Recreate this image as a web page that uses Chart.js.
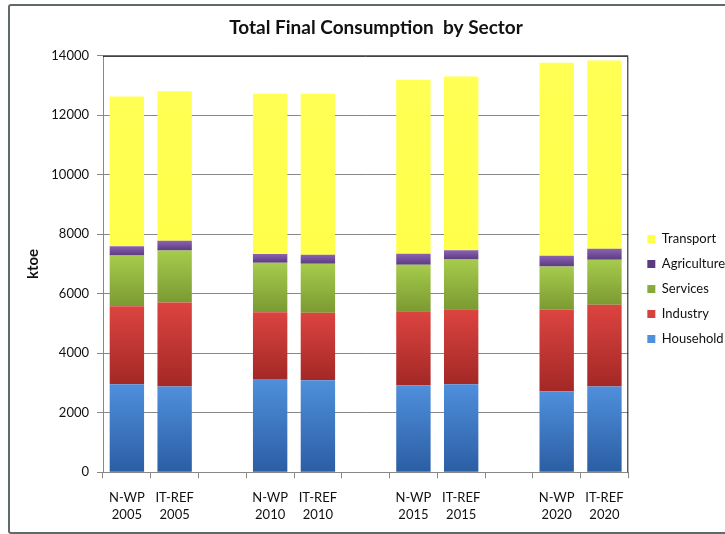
<!DOCTYPE html>
<html>
<head>
<meta charset="utf-8">
<script src="https://cdn.jsdelivr.net/npm/chart.js@4.4.0/dist/chart.umd.min.js"></script>
<style>
  body { margin: 0; background: #fff; overflow: hidden; }
  #frame { position: absolute; left: 8px; top: 4px; width: 730px; height: 526px; border: 2px solid #5f6a6a; border-radius: 3px; }
  #wrap { position: absolute; left: 0; top: 0; width: 725px; height: 534px; }
</style>
</head>
<body>
<div id="frame"></div>
<div id="wrap"><canvas id="myChart"></canvas></div>
<script>
var labels = [
  ["N-WP", "2005"], ["IT-REF", "2005"], "",
  ["N-WP", "2010"], ["IT-REF", "2010"], "",
  ["N-WP", "2015"], ["IT-REF", "2015"], "",
  ["N-WP", "2020"], ["IT-REF", "2020"]
];
var household   = [2960, 2880, null, 3130, 3090, null, 2925, 2960, null, 2720, 2880];
var industry    = [2620, 2825, null, 2250, 2270, null, 2490, 2520, null, 2740, 2750];
var services    = [1705, 1750, null, 1660, 1650, null, 1560, 1670, null, 1455, 1510];
var agriculture = [ 315,  325, null,  300,  300, null,  370,  310, null,  360,  370];
var transport   = [5030, 5030, null, 5380, 5410, null, 5850, 5840, null, 6490, 6330];
var yTicks = [0, 2000, 4000, 6000, 8000, 10000, 12000, 14000];

var series = [household, industry, services, agriculture, transport];
var shades = [
  ["#4f8fdc", "#2b5ea3"],
  ["#dc4440", "#a32826"],
  ["#a6cb4c", "#7b9a32"],
  ["#8a63b2", "#5b3b80"],
  ["#ffff55", "#ffff4a"]
];

// light at the top of each segment, darker at the bottom
function segmentFill(i) {
  return function (ctx) {
    var chart = ctx.chart, y = chart.scales.y;
    if (!chart.chartArea || !y || ctx.type !== "data") return shades[i][0];
    var start = 0;
    for (var k = 0; k < i; k++) start += series[k][ctx.dataIndex] || 0;
    var end = start + (series[i][ctx.dataIndex] || 0);
    var y0 = y.getPixelForValue(end), y1 = y.getPixelForValue(start);
    if (!isFinite(y0) || !isFinite(y1) || y0 === y1) return shades[i][0];
    var g = chart.ctx.createLinearGradient(0, y0, 0, y1);
    g.addColorStop(0, shades[i][0]);
    g.addColorStop(1, shades[i][1]);
    return g;
  };
}

var plotBorder = {
  id: "plotBorder",
  afterLayout: function (chart) {
    // nudge the legend a little right and down, like the original
    var lg = chart.legend;
    lg.left += 7; lg.right += 7;
    lg.top += 18; lg.bottom += 18;
  },
  afterDraw: function (chart) {
    var a = chart.chartArea, c = chart.ctx;
    c.save();
    c.strokeStyle = "#111";
    c.lineWidth = 1;
    c.beginPath();
    c.moveTo(a.left, a.top + 0.5);
    c.lineTo(a.right - 0.5, a.top + 0.5);
    c.lineTo(a.right - 0.5, a.bottom);
    c.stroke();
    c.restore();
  }
};

var names = ["Household", "Industry", "Services", "Agriculture", "Transport"];
var datasets = names.map(function (n, i) {
  return { label: n, data: series[i], backgroundColor: segmentFill(i), borderWidth: 0 };
});

new Chart("myChart", {
  type: "bar",
  data: { labels: labels, datasets: datasets },
  plugins: [plotBorder],
  options: {
    responsive: true,
    maintainAspectRatio: false,
    animation: false,
    datasets: { bar: { barPercentage: 0.72, categoryPercentage: 1 } },
    layout: { padding: { left: 24, top: 8, right: -3, bottom: 0 } },
    plugins: {
      title: {
        display: true,
        text: "Total Final Consumption  by Sector",
        color: "#111",
        font: { family: "Lato", size: 19, weight: "bold" },
        padding: { top: 8, bottom: 17 }
      },
      legend: {
        position: "right",
        reverse: true,
        labels: {
          boxWidth: 8, boxHeight: 8, padding: 12,
          color: "#111",
          font: { family: "Lato", size: 13 }
        }
      },
      tooltip: { enabled: false }
    },
    scales: {
      x: {
        stacked: true,
        grid: { drawOnChartArea: false, drawTicks: true, tickLength: 6, color: "#888" },
        border: { color: "#888" },
        ticks: { color: "#111", padding: 11, maxRotation: 0, autoSkip: false, font: { family: "Lato", size: 13, lineHeight: 1.3 } }
      },
      y: {
        stacked: true,
        min: 0, max: 14000,
        afterBuildTicks: function (s) { s.ticks = yTicks.map(function (v) { return { value: v }; }); },
        afterFit: function (s) { s.width = 79; },
        grid: { color: "#888", tickLength: 6 },
        border: { color: "#888" },
        title: { display: true, text: "ktoe", color: "#111", font: { family: "Lato", size: 15, weight: "bold" }, padding: 0 },
        ticks: { color: "#111", padding: 8, font: { family: "Lato", size: 13 }, callback: function (v) { return String(v); } }
      }
    }
  }
});
</script>
</body>
</html>
